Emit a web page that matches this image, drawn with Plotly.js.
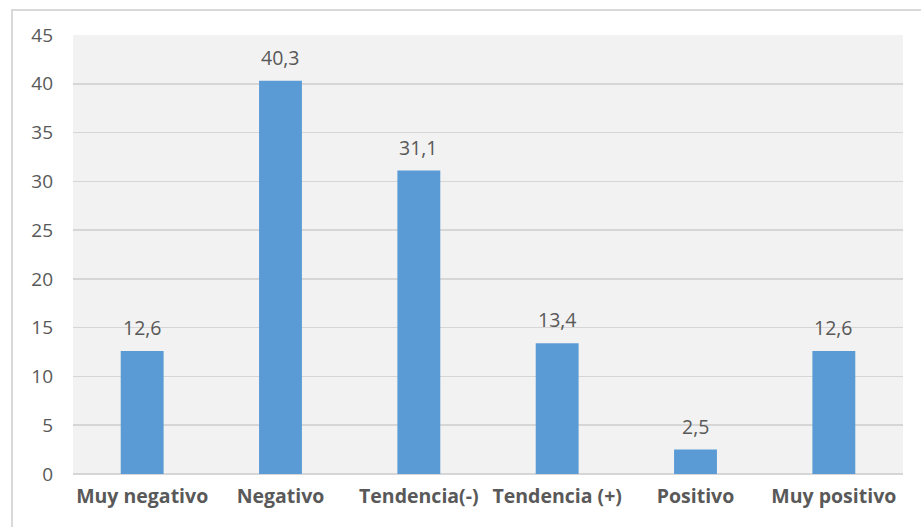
<!DOCTYPE html>
<html>
<head>
<meta charset="utf-8">
<script src="https://cdn.plot.ly/plotly-3.0.1.min.js"></script>
<style>html,body{margin:0;padding:0;background:#fff;}#chart{width:921px;height:527px;}</style>
</head>
<body>
<div id="chart"></div>
<script>
var categories = ["Muy negativo", "Negativo", "Tendencia(-)", "Tendencia (+)", "Positivo", "Muy positivo"];
var values = [12.6, 40.3, 31.1, 13.4, 2.5, 12.6];
var tickValues = [0, 5, 10, 15, 20, 25, 30, 35, 40, 45];

var textColor = "#595959";
var fontFam = "'Open Sans', Lato, sans-serif";

var annotations = categories.map(function(c, i) {
  return {
    x: c, y: values[i], xref: "x", yref: "y",
    text: values[i].toFixed(1).replace(".", ","),
    showarrow: false, yanchor: "bottom", yshift: 8,
    font: {family: fontFam, size: 19.5, color: textColor}
  };
});

var trace = {
  type: "bar",
  x: categories,
  y: values,
  width: 0.31,
  marker: {color: "#5b9bd5"},
  hoverinfo: "x+y"
};

var layout = {
  width: 921, height: 527,
  margin: {l: 73, r: 18, t: 35, b: 53},
  paper_bgcolor: "#ffffff",
  plot_bgcolor: "#f2f2f2",
  separators: ",.",
  showlegend: false,
  font: {family: fontFam, color: textColor},
  xaxis: {
    type: "category",
    showgrid: false,
    zeroline: false,
    showline: false,
    ticks: "",
    ticklabelstandoff: 8,
    tickfont: {family: fontFam, size: 19.5, color: textColor, weight: "bold"}
  },
  yaxis: {
    range: [0, 45],
    tickvals: tickValues,
    showgrid: true,
    gridcolor: "#d6d6d6",
    gridwidth: 1.5,
    zeroline: true,
    zerolinecolor: "#d6d6d6",
    zerolinewidth: 1.5,
    showline: false,
    ticks: "",
    ticklabelstandoff: 19,
    tickfont: {family: fontFam, size: 19, color: textColor}
  },
  annotations: annotations,
  shapes: [{
    type: "rect", xref: "paper", yref: "paper",
    x0: -0.0735, x1: 1.1, y0: -0.3, y1: 1.057,
    line: {color: "#d9d9d9", width: 2},
    fillcolor: "rgba(0,0,0,0)", layer: "below"
  }]
};

Plotly.newPlot("chart", [trace], layout, {displayModeBar: false, staticPlot: true});
</script>
</body>
</html>
